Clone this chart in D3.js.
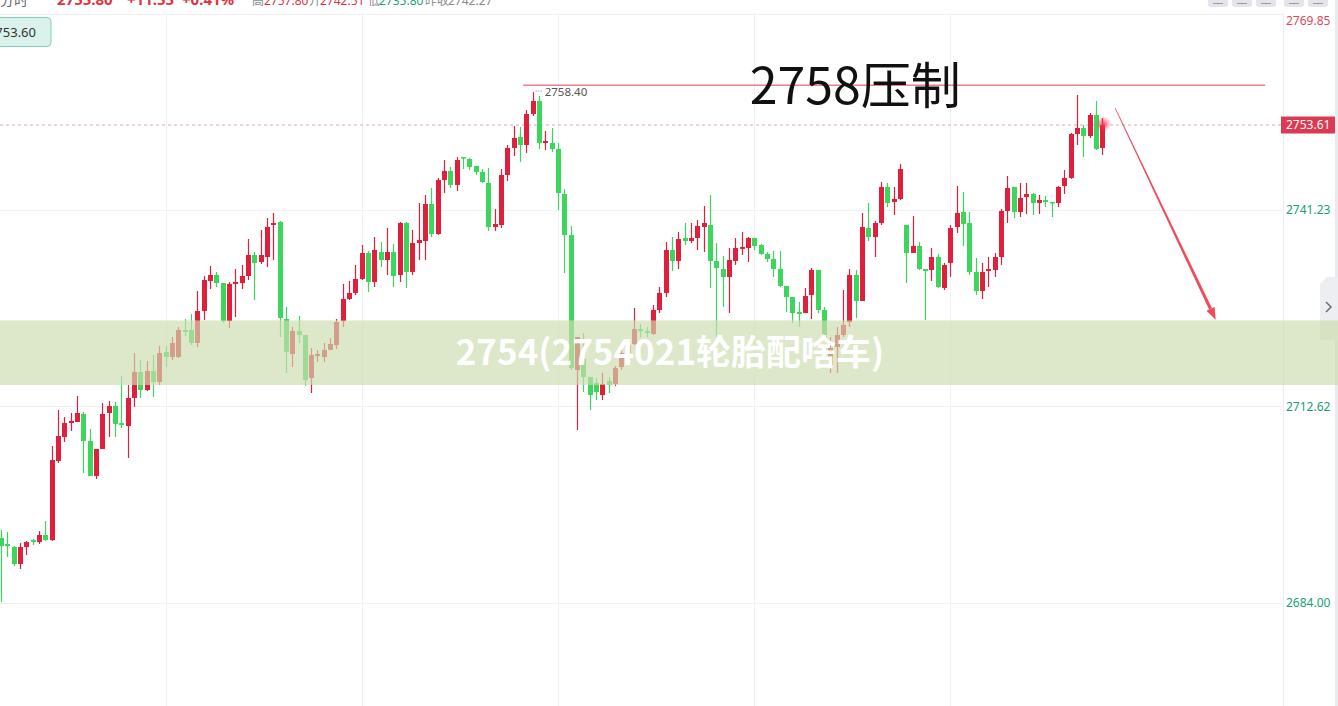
<!DOCTYPE html>
<html><head><meta charset="utf-8">
<script src="https://cdn.jsdelivr.net/npm/d3@7"></script>
<style>html,body{margin:0;padding:0;background:#fff;overflow:hidden}svg{display:block}</style>
</head><body><svg id="c" width="1338" height="706"></svg>
<script>
// ---------- data ----------
const opens=[2693.47,2692.59,2692.15,2689.68,2692.15,2693.17,2692.88,2693.90,2693.17,2704.68,
2708.18,2710.21,2710.36,2711.53,2707.59,2702.50,2706.43,2711.67,2712.69,2710.21,
2709.78,2713.86,2717.64,2715.02,2717.79,2716.19,2720.55,2719.83,2719.83,2723.76,
2723.76,2721.87,2726.53,2730.90,2731.77,2730.60,2725.07,2730.46,2730.60,2731.62,
2734.68,2733.66,2734.39,2739.05,2739.49,2725.36,2720.26,2723.61,2723.03,2716.77,
2719.97,2719.83,2720.85,2721.57,2725.07,2728.27,2729.15,2731.19,2734.97,2730.75,
2735.12,2733.95,2735.12,2731.77,2739.34,2732.21,2736.43,2736.72,2742.11,2737.74,
2745.60,2746.92,2744.88,2748.95,2748.66,2747.64,2746.77,2745.17,2738.76,2739.05,
2746.33,2750.27,2751.87,2750.70,2755.22,2757.11,2750.99,2750.99,2750.12,2743.57,
2737.59,2717.93,2719.54,2716.91,2716.04,2714.29,2716.33,2715.89,2718.37,2720.41,
2721.72,2723.90,2723.61,2723.18,2726.67,2729.15,2735.41,2733.81,2737.16,2736.72,
2737.16,2738.76,2739.05,2733.81,2732.64,2731.48,2733.81,2735.56,2735.70,2737.16,
2736.14,2734.83,2734.10,2732.64,2730.17,2728.56,2726.38,2726.23,2728.86,2732.50,
2726.67,2718.66,2721.28,2723.03,2724.92,2731.77,2727.98,2738.61,2737.30,2739.34,
2744.59,2742.40,2742.84,2739.05,2734.97,2735.99,2732.64,2732.50,2734.39,2729.88,
2733.52,2738.76,2740.94,2739.34,2732.21,2729.44,2732.35,2732.50,2734.39,2741.09,
2744.59,2740.94,2743.13,2743.57,2742.26,2742.69,2742.40,2742.26,2744.73,2745.90,
2752.30,2753.18,2752.01,2755.07,2750.27];
const highs=[2694.63,2694.34,2692.30,2692.74,2693.03,2693.32,2694.48,2695.94,2706.86,2712.11,
2711.09,2711.67,2714.15,2711.82,2709.34,2706.43,2713.13,2713.42,2713.27,2717.06,
2715.75,2720.41,2719.39,2719.24,2720.12,2721.43,2721.43,2722.74,2724.20,2725.36,
2726.09,2729.44,2731.62,2733.08,2732.21,2730.60,2730.75,2732.64,2733.23,2737.01,
2735.12,2738.32,2740.07,2740.80,2739.63,2727.11,2724.20,2725.80,2723.03,2721.14,
2720.85,2721.87,2722.59,2725.36,2730.46,2730.90,2733.23,2736.14,2735.26,2737.30,
2736.57,2738.61,2736.28,2739.49,2739.49,2738.32,2742.26,2743.42,2744.44,2745.90,
2748.52,2747.50,2748.95,2748.95,2748.81,2747.64,2747.21,2747.35,2741.38,2747.21,
2750.70,2753.47,2753.32,2755.80,2758.40,2757.84,2752.74,2753.18,2750.99,2744.29,
2738.91,2722.74,2723.32,2716.91,2716.77,2717.50,2716.91,2718.52,2721.87,2722.30,
2726.96,2724.63,2724.20,2727.40,2730.02,2736.57,2737.30,2738.03,2739.34,2739.34,
2739.78,2741.82,2743.42,2736.43,2734.54,2735.70,2737.16,2738.03,2737.30,2737.16,
2736.28,2735.12,2735.26,2735.26,2730.17,2728.56,2727.84,2729.88,2732.79,2732.50,
2727.11,2722.74,2724.20,2729.58,2732.64,2732.50,2740.80,2742.26,2739.63,2745.31,
2745.17,2744.59,2747.94,2739.05,2740.36,2736.57,2732.64,2735.70,2734.83,2733.52,
2739.05,2744.73,2743.86,2740.94,2734.25,2733.52,2734.39,2734.97,2741.38,2746.19,
2744.59,2745.17,2745.17,2743.71,2743.42,2743.27,2742.40,2744.73,2747.06,2752.45,
2757.98,2753.61,2755.36,2757.11,2754.63];
const lows=[2684.14,2690.70,2689.39,2688.95,2690.99,2692.45,2692.59,2693.03,2693.03,2704.39,
2707.45,2709.05,2710.36,2702.93,2702.50,2702.06,2706.43,2708.18,2708.18,2709.49,
2705.12,2712.55,2713.86,2714.87,2714.00,2715.75,2718.37,2719.39,2719.68,2722.88,
2721.57,2721.28,2725.22,2729.73,2730.02,2724.78,2724.05,2725.65,2729.73,2731.04,
2728.13,2733.37,2732.93,2733.95,2722.74,2717.50,2718.37,2721.87,2715.60,2714.58,
2719.10,2719.10,2720.85,2720.99,2724.20,2728.13,2728.86,2731.04,2729.29,2730.02,
2732.93,2731.77,2730.02,2730.75,2729.88,2731.77,2733.95,2733.95,2737.30,2737.59,
2743.71,2744.44,2744.00,2747.21,2747.06,2746.33,2745.17,2738.18,2738.18,2738.61,
2745.46,2749.10,2748.23,2749.54,2754.93,2750.12,2749.97,2749.68,2741.24,2732.06,
2717.93,2709.19,2714.73,2712.11,2713.56,2713.56,2714.58,2715.60,2717.93,2719.97,
2721.57,2722.74,2722.74,2723.03,2726.23,2728.56,2732.35,2732.64,2736.14,2736.43,
2735.41,2735.12,2729.88,2722.74,2727.11,2726.23,2733.23,2734.68,2733.66,2735.41,
2734.68,2733.66,2731.48,2730.02,2726.38,2724.78,2724.20,2726.23,2725.36,2726.23,
2722.59,2717.50,2717.50,2722.74,2724.20,2725.51,2727.98,2736.72,2734.39,2739.05,
2741.67,2740.51,2742.69,2730.60,2734.97,2732.50,2725.22,2730.90,2729.88,2729.58,
2731.48,2737.89,2735.99,2731.77,2728.86,2728.27,2730.02,2731.48,2733.23,2739.34,
2740.07,2740.22,2740.65,2740.51,2740.65,2741.67,2740.22,2741.67,2743.57,2745.75,
2750.70,2748.95,2751.72,2749.97,2749.25];
const closes=[2692.30,2692.30,2689.68,2692.15,2692.88,2692.88,2693.90,2693.17,2704.83,2708.32,
2710.21,2710.51,2711.67,2707.59,2702.50,2706.43,2711.53,2712.69,2710.07,2709.92,
2713.86,2717.64,2715.02,2717.79,2716.19,2720.41,2719.83,2721.87,2723.76,2723.47,
2721.87,2726.53,2731.04,2731.77,2730.60,2725.07,2730.46,2730.75,2731.62,2734.68,
2733.52,2734.68,2738.76,2739.34,2725.51,2720.55,2723.61,2723.03,2716.48,2720.12,
2720.26,2720.85,2721.72,2724.92,2728.27,2729.15,2731.19,2734.97,2730.75,2735.41,
2733.95,2735.12,2731.62,2739.34,2732.21,2736.43,2736.87,2742.11,2737.74,2745.60,
2746.92,2744.88,2748.52,2748.81,2747.50,2746.77,2745.31,2738.76,2739.20,2746.33,
2750.27,2751.72,2750.70,2755.22,2757.11,2750.99,2751.28,2750.12,2743.71,2737.59,
2718.22,2722.74,2716.91,2714.29,2714.73,2715.89,2715.75,2718.22,2720.41,2721.57,
2723.90,2723.61,2723.32,2726.67,2729.15,2735.41,2733.81,2737.01,2736.72,2737.16,
2738.91,2739.34,2733.81,2732.79,2731.48,2733.95,2735.70,2735.85,2737.16,2735.99,
2734.83,2734.10,2732.64,2730.17,2728.56,2726.23,2726.09,2728.71,2732.50,2726.67,
2722.74,2721.14,2723.03,2724.49,2731.77,2727.98,2738.76,2737.30,2739.34,2744.59,
2742.26,2742.84,2747.21,2734.97,2735.99,2732.64,2732.35,2734.39,2730.02,2733.23,
2738.61,2740.80,2739.20,2732.21,2729.44,2732.21,2732.64,2734.39,2741.09,2744.44,
2740.94,2742.98,2743.57,2742.26,2742.69,2742.40,2742.26,2744.59,2745.90,2752.30,
2753.18,2752.01,2755.07,2750.12,2753.61];
const priceTicks=[2684.00,2712.62,2741.23,2769.85];
const timeGridIdx=[26,57,88,119,150];
const lastPrice=2753.61;
const peakIdx=84, peakValue=2758.40;
const resistanceValue=2759.4, resistanceFrom=82.5, resistanceTo=199.7;
const resistanceLabel="2758压制", resistanceLabelAt=[118.3,2756.7];
const zoneTop=2725.15, zoneBottom=2715.75;
const zoneLabel="2754(2754021轮胎配啥车)";
const arrowFrom=[176.0,2756.1], arrowTo=[191.9,2725.25];
const tooltipValue="2753.60";
const headerParts=[
  {t:"分时",c:"#666",w:400,s:14},
  {t:"2755.80",c:"#e0323f",w:700,s:15},
  {t:"+11.55",c:"#e0323f",w:700,s:15},
  {t:"+0.41%",c:"#e0323f",w:700,s:15},
  {t:"高",c:"#888",w:400,s:12},{t:"2757.80",c:"#e0323f",w:400,s:12},
  {t:"开",c:"#888",w:400,s:12},{t:"2742.51",c:"#e0323f",w:400,s:12},
  {t:"低",c:"#888",w:400,s:12},{t:"2735.80",c:"#1a9e77",w:400,s:12},
  {t:"昨收",c:"#888",w:400,s:12},{t:"2742.27",c:"#888",w:400,s:12}
];
const headerX=[0,57,127,182,252,264,309,320,368,379,425,448];

// ---------- chart ----------
const W=1338,H=706, AXIS_X=1283;
const svg=d3.select("#c");
const FONT="'Noto Sans','Noto Sans CJK SC',sans-serif";
const RED="#e01f3d", GREEN="#3dd65c";
const x=d3.scaleLinear().domain([0,174]).range([1,1102.4]);
const y=d3.scaleLinear().domain([2684,2769.85]).range([603,13.5]);
const data=opens.map((o,i)=>({i,o,h:highs[i],l:lows[i],c:closes[i]}));

svg.append("rect").attr("width",W).attr("height",H).attr("fill","#fff");

// grid
const grid=svg.append("g").attr("stroke","#f1f1f3").attr("stroke-width",1);
grid.selectAll(".hg").data(priceTicks).join("line")
  .attr("x1",0).attr("x2",AXIS_X).attr("y1",d=>Math.round(y(d))+0.5).attr("y2",d=>Math.round(y(d))+0.5);
grid.selectAll(".vg").data(timeGridIdx).join("line")
  .attr("x1",d=>Math.round(x(d))+0.5).attr("x2",d=>Math.round(x(d))+0.5).attr("y1",13).attr("y2",H);
svg.append("line").attr("x1",AXIS_X+0.5).attr("x2",AXIS_X+0.5).attr("y1",13).attr("y2",H).attr("stroke","#ececef");

// header (cut off at the top edge, as in the reference)
const hdr=svg.append("g").attr("font-family",FONT);
headerParts.forEach((p,k)=>{
  hdr.append("text").attr("x",headerX[k]).attr("y",5).attr("fill",p.c)
    .attr("font-size",p.s).attr("font-weight",p.w).text(p.t);
});
// top-right buttons
const btnX=[1208,1232,1256,1284,1308];
const btns=svg.append("g");
btnX.forEach(bx=>{
  btns.append("rect").attr("x",bx).attr("y",-6).attr("width",20).attr("height",13).attr("rx",3).attr("fill","#e3e5ea");
  btns.append("line").attr("x1",bx+5).attr("x2",bx+15).attr("y1",3.5).attr("y2",3.5).attr("stroke","#9a9ca3").attr("stroke-width",1);
});

// dashed last price line
svg.append("line").attr("x1",0).attr("x2",AXIS_X).attr("y1",y(lastPrice)).attr("y2",y(lastPrice))
  .attr("stroke","#eaa4ac").attr("stroke-width",1).attr("stroke-dasharray","3,3");

// candles
const cg=svg.append("g");
const cs=cg.selectAll("g").data(data).join("g");
cs.append("line").attr("x1",d=>Math.round(x(d.i))+0.5).attr("x2",d=>Math.round(x(d.i))+0.5)
  .attr("y1",d=>y(d.h)).attr("y2",d=>y(d.l))
  .attr("stroke",d=>d.c>=d.o?RED:GREEN).attr("stroke-width",1.2);
cs.append("rect").attr("x",d=>Math.round(x(d.i))+0.5-2.5).attr("width",5)
  .attr("y",d=>y(Math.max(d.o,d.c)))
  .attr("height",d=>Math.max(1.5,Math.abs(y(d.o)-y(d.c))))
  .attr("fill",d=>d.c>=d.o?RED:GREEN);

// glow at last
const defs=svg.append("defs");
const rg=defs.append("radialGradient").attr("id","glow");
rg.append("stop").attr("offset","0%").attr("stop-color","#ff3050").attr("stop-opacity",0.9);
rg.append("stop").attr("offset","45%").attr("stop-color","#ff3050").attr("stop-opacity",0.45);
rg.append("stop").attr("offset","100%").attr("stop-color","#ff3050").attr("stop-opacity",0);
svg.append("circle").attr("cx",x(174)+1).attr("cy",y(lastPrice)-1).attr("r",8).attr("fill","url(#glow)");

// peak label
svg.append("line").attr("x1",x(peakIdx)+3).attr("x2",x(peakIdx)+10).attr("y1",y(peakValue)-1).attr("y2",y(peakValue)-1)
  .attr("stroke","#888").attr("stroke-dasharray","1,1.5");
svg.append("text").attr("x",x(peakIdx)+12).attr("y",y(peakValue)).attr("dy","0.35em")
  .attr("font-family",FONT).attr("font-size",11.5).attr("fill","#555").text(peakValue.toFixed(2));

// resistance line & label
svg.append("line").attr("x1",x(resistanceFrom)).attr("x2",x(resistanceTo))
  .attr("y1",y(resistanceValue)).attr("y2",y(resistanceValue))
  .attr("stroke","#e8808c").attr("stroke-width",1.6);
svg.append("text").attr("x",x(resistanceLabelAt[0])).attr("y",y(resistanceLabelAt[1]))
  .attr("font-family","'Noto Sans CJK SC',sans-serif").attr("font-size",50).attr("fill","#111")
  .text(resistanceLabel);

// axis labels
const ax=svg.append("g").attr("transform",`translate(${AXIS_X},0)`)
  .call(d3.axisRight(y).tickValues(priceTicks).tickSize(0).tickPadding(3).tickFormat(d3.format(".2f")));
ax.select(".domain").remove();
ax.selectAll("text").attr("font-family",FONT).attr("font-size",12)
  .attr("fill",d=>d>lastPrice?"#d84a60":"#1a9e77")
  .attr("dy",d=>d===priceTicks[priceTicks.length-1]?"0.95em":"0.32em");

// last price tag
const tagY=y(lastPrice);
svg.append("rect").attr("x",AXIS_X-2).attr("y",tagY-8.5).attr("width",54).attr("height",17).attr("fill","#dc3a52");
svg.append("text").attr("x",AXIS_X+3).attr("y",tagY).attr("dy","0.35em").attr("font-family",FONT)
  .attr("font-size",12).attr("fill","#fff").text(lastPrice.toFixed(2));

// tooltip box
svg.append("rect").attr("x",-12).attr("y",17.5).attr("width",63).attr("height",29).attr("rx",4)
  .attr("fill","#d9f2ec").attr("stroke","#7fcfb9");
svg.append("text").attr("x",36).attr("y",32).attr("dy","0.35em").attr("text-anchor","end")
  .attr("font-family",FONT).attr("font-size",13).attr("fill","#333").text(tooltipValue);

// right strip & tab
svg.append("rect").attr("x",1335).attr("y",0).attr("width",3).attr("height",H).attr("fill","#e9ebf0");
svg.append("path").attr("d","M1320,284 L1327,277 L1338,277 L1338,340 L1320,340 Z").attr("fill","#eceef2");
svg.append("path").attr("d","M1326,302 L1331,307 L1326,312").attr("fill","none").attr("stroke","#6d6f76").attr("stroke-width",1.5);

// zone banner
svg.append("rect").attr("x",0).attr("width",W).attr("y",y(zoneTop)).attr("height",y(zoneBottom)-y(zoneTop))
  .attr("fill","rgb(205,220,176)").attr("fill-opacity",0.68);
svg.append("text").attr("x",670).attr("y",(y(zoneTop)+y(zoneBottom))/2).attr("dy","0.36em")
  .attr("text-anchor","middle").attr("font-family","'Noto Sans CJK SC','Noto Sans',sans-serif")
  .attr("font-weight",700).attr("font-size",35).attr("fill","#fff").text(zoneLabel);

// arrow
const S=[x(arrowFrom[0]),y(arrowFrom[1])], E=[x(arrowTo[0]),y(arrowTo[1])];
const len=Math.hypot(E[0]-S[0],E[1]-S[1]);
const u=[(E[0]-S[0])/len,(E[1]-S[1])/len], n=[-u[1],u[0]];
const B=[E[0]-u[0]*12,E[1]-u[1]*12];
const P=(p,k,w)=>[p[0]+n[0]*k*w,p[1]+n[1]*k*w];
const shaft=[P(S,1,0.4),P(B,1,1.6),P(B,-1,1.6),P(S,-1,0.4)];
const head=[E,P(B,1,4.5),P(B,-1,4.5)];
svg.append("path").attr("d","M"+shaft.map(p=>p.join(",")).join("L")+"Z").attr("fill","#f04a5c");
svg.append("path").attr("d","M"+head.map(p=>p.join(",")).join("L")+"Z").attr("fill","#f04a5c");
</script></body></html>
